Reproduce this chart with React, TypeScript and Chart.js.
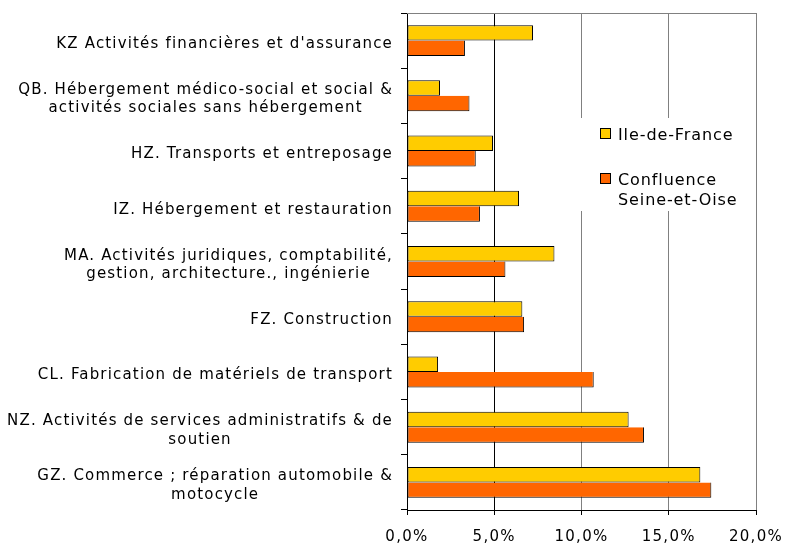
import React, { useEffect, useRef } from 'react';
import { Chart, registerables } from 'chart.js';

Chart.register(...registerables);

// ---- Data ----
const categories: string[][] = [
  ["KZ Activités financières et d'assurance"],
  ['QB. Hébergement médico-social et social &', 'activités sociales sans hébergement'],
  ['HZ. Transports et entreposage'],
  ['IZ. Hébergement et restauration'],
  ['MA. Activités juridiques, comptabilité,', 'gestion, architecture., ingénierie'],
  ['FZ. Construction'],
  ['CL. Fabrication de matériels de transport'],
  ['NZ. Activités de services administratifs & de', 'soutien'],
  ['GZ. Commerce ; réparation automobile &', 'motocycle'],
];

const ileDeFrance = [7.22, 1.89, 4.93, 6.42, 8.45, 6.61, 1.78, 12.7, 16.81];
const confluence = [3.32, 3.58, 3.94, 4.18, 5.64, 6.71, 10.7, 13.58, 17.44];

const seriesNames: string[][] = [['Ile-de-France'], ['Confluence', 'Seine-et-Oise']];
const seriesColors = ['#FFCC00', '#FF6600'];

const xMin = 0;
const xMax = 20;
const xStep = 5;

// ---- Style ----
const FONT_FAMILY = '"DejaVu Sans", Verdana, sans-serif';
const LABEL_FONT = `15px ${FONT_FAMILY}`;
const LEGEND_FONT = `16px ${FONT_FAMILY}`;
const LABEL_RIGHT = 393;

const customPlugin = {
  id: 'customDecor',
  beforeDraw(chart: any) {
    (chart.ctx as any).letterSpacing = '1.3px';
  },
  afterDraw(chart: any) {
    const { ctx, chartArea, scales } = chart;
    const yScale = scales.y;
    ctx.save();

    // top border of plot area
    ctx.strokeStyle = '#808080';
    ctx.lineWidth = 1;
    const ty = Math.round(chartArea.top) + 0.5;
    ctx.beginPath();
    ctx.moveTo(chartArea.left, ty);
    ctx.lineTo(chartArea.right, ty);
    ctx.stroke();

    // category labels (right-aligned block, lines centered)
    (ctx as any).letterSpacing = '1.17px';
    ctx.font = LABEL_FONT;
    ctx.fillStyle = '#000';
    ctx.textAlign = 'center';
    ctx.textBaseline = 'alphabetic';
    const labels = chart.data.labels as string[][];
    labels.forEach((lines, i) => {
      const c = yScale.getPixelForValue(i);
      const w = Math.max(...lines.map((l) => ctx.measureText(l).width));
      const cx = LABEL_RIGHT - w / 2;
      lines.forEach((l, j) => {
        ctx.fillText(l, cx, c + 7.3 + (j - (lines.length - 1) / 2) * 18.5);
      });
    });

    // legend box
    (ctx as any).letterSpacing = '0.9px';
    ctx.font = LEGEND_FONT;
    ctx.fillStyle = '#fff';
    ctx.fillRect(578, 118, 172, 93);
    const items = [
      { y: 128, baselines: [140] },
      { y: 173, baselines: [184.5, 204.5] },
    ];
    ctx.textAlign = 'left';
    items.forEach((it, k) => {
      ctx.fillStyle = seriesColors[k];
      ctx.fillRect(600, it.y, 11, 11);
      ctx.strokeStyle = '#000';
      ctx.lineWidth = 1;
      ctx.strokeRect(600.5, it.y + 0.5, 10, 10);
      ctx.fillStyle = '#000';
      seriesNames[k].forEach((t, j) => {
        ctx.fillText(t, 618, it.baselines[j]);
      });
    });

    ctx.restore();
  },
};

export default function App() {
  const ref = useRef<HTMLCanvasElement>(null);

  useEffect(() => {
    if (!ref.current) return;
    const chart = new Chart(ref.current, {
      type: 'bar',
      data: {
        labels: categories as any,
        datasets: [
          {
            label: seriesNames[0].join(' '),
            data: ileDeFrance,
            backgroundColor: seriesColors[0],
            borderColor: '#000',
            borderWidth: { top: 1, right: 1, bottom: 1, left: 1 } as any,
            borderSkipped: false,
            categoryPercentage: 0.56,
            barPercentage: 1,
          },
          {
            label: seriesNames[1].join(' '),
            data: confluence,
            backgroundColor: seriesColors[1],
            borderColor: '#000',
            borderWidth: { top: 0, right: 1, bottom: 1, left: 1 } as any,
            borderSkipped: false,
            categoryPercentage: 0.56,
            barPercentage: 1,
          },
        ],
      },
      options: {
        animation: false,
        responsive: true,
        maintainAspectRatio: false,
        indexAxis: 'y',
        layout: { padding: { top: 13, right: 31, left: 0, bottom: 0 } },
        plugins: {
          legend: { display: false },
          tooltip: { enabled: false },
        },
        scales: {
          x: {
            min: xMin,
            max: xMax,
            ticks: {
              stepSize: xStep,
              padding: 13,
              color: '#000',
              font: { family: FONT_FAMILY, size: 15 },
              callback: (v: any) => Number(v).toFixed(1).replace('.', ',') + '%',
            },
            grid: {
              color: (c: any) => (c.tick && c.tick.value === 5 ? '#000' : '#808080'),
              tickColor: '#000',
              tickLength: 5,
              lineWidth: 1,
            },
            border: { color: '#000', width: 1 },
            afterFit: (s: any) => {
              s.height = 34;
              s.paddingLeft = 0;
              s.paddingRight = 0;
            },
          },
          y: {
            ticks: { display: false },
            grid: { drawOnChartArea: false, tickLength: 6, color: '#000', offset: true },
            border: { color: '#000', width: 1 },
            afterFit: (s: any) => {
              s.width = 407;
              s.paddingTop = 0;
              s.paddingBottom = 0;
            },
          },
        },
      } as any,
      plugins: [customPlugin],
    });
    return () => chart.destroy();
  }, []);

  return (
    <div style={{ position: 'fixed', left: 0, top: 0, width: 787, height: 544, background: '#fff' }}>
      <canvas ref={ref} />
    </div>
  );
}
